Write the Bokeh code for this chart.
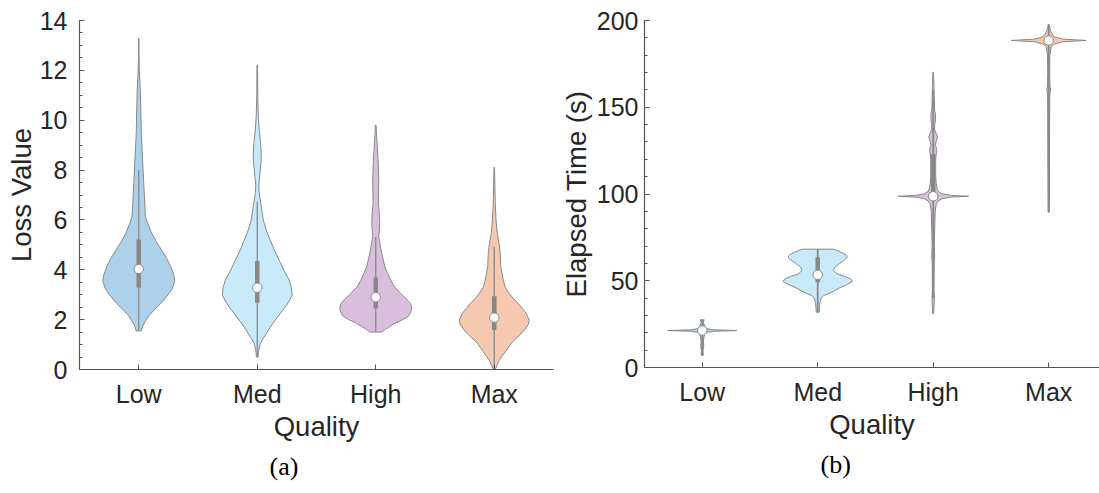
import numpy as np
from bokeh.plotting import figure
from bokeh.layouts import row
from bokeh.models import Range1d, FixedTicker, Title
from bokeh.embed import file_html
from bokeh.resources import INLINE

CATEGORIES = ["Low", "Med", "High", "Max"]
COLORS = ["#ADD1EA", "#C7E9F9", "#D8BFDC", "#F5C8B0"]

# ---------------- panel (a): Loss Value ----------------
LOSS_LOW_Y = [1.55, 1.75, 1.97, 2.2, 2.37, 2.65, 2.93, 3.2, 3.53, 3.8, 4.13, 4.45, 4.78, 5.1, 5.46,
              5.86, 6.14, 6.66, 7.46, 8.26, 9.5, 10.5, 11.15, 12.0, 12.5, 13.28]
LOSS_LOW_D = [2.7, 4, 7, 11, 15, 22, 28, 33, 36, 35, 32, 28, 23, 18, 13,
              9, 6.7, 6, 5, 4, 2.5, 2, 1.6, 0.6, 0.3, 0.3]

LOSS_MED_Y = [0.5, 0.7, 1.04, 1.25, 1.44, 1.7, 1.98, 2.25, 2.5, 2.75, 3.0, 3.3, 3.58, 3.95, 4.38,
              4.8, 5.19, 5.6, 6.0, 6.4, 6.8, 7.1, 7.4, 7.8, 8.3, 8.7, 9.1, 9.6, 10.2, 11.0, 12.2]
LOSS_MED_D = [0.8, 1.2, 3, 6, 9, 13, 18, 23, 28, 32, 35, 34, 32, 27, 22,
              17, 13, 9, 6, 4.5, 3, 1.8, 1.5, 2.5, 3.8, 4, 3.3, 2, 1, 0.5, 0.3]

LOSS_HIGH_Y = [1.5, 1.6, 1.7, 1.85, 2.0, 2.15, 2.4, 2.65, 2.85, 3.05, 3.3, 3.58, 3.85, 4.13, 4.65,
               5.0, 5.33, 5.86, 6.3, 6.66, 7.6, 8.3, 8.94, 9.4, 9.8]
LOSS_HIGH_D = [6, 9, 13, 19, 27, 33, 36, 35, 30, 25, 19, 15, 12, 9, 6,
               4.5, 3, 4, 3.5, 2.7, 3, 2.5, 1.5, 0.8, 0.3]

LOSS_MAX_Y = [0.0, 0.2, 0.37, 0.57, 0.77, 1.0, 1.18, 1.4, 1.58, 1.8, 1.98, 2.15, 2.25, 2.45, 2.65,
              2.85, 3.05, 3.3, 3.58, 4.13, 4.65, 5.0, 5.46, 6.0, 6.66, 7.4, 8.1]
LOSS_MAX_D = [1, 3, 5, 8.5, 12, 16, 20, 26, 30, 34, 35, 33, 32, 28, 24,
              19, 15, 11, 9, 6.5, 6, 5, 3, 1.8, 1, 0.6, 0.3]

LOSS_MEDIAN = [4.03, 3.28, 2.90, 2.08]
LOSS_Q1 = [3.29, 2.68, 2.45, 1.58]
LOSS_Q3 = [5.21, 4.35, 3.69, 2.94]
LOSS_WLO = [1.55, 0.5, 1.5, 0.0]
LOSS_WHI = [8.0, 6.73, 5.32, 4.92]

LOSS_TICKS = [0, 2, 4, 6, 8, 10, 12, 14]
LOSS_MINOR = [v * 0.5 for v in range(0, 29)]

# ---------------- panel (b): Elapsed Time ----------------
TIME_LOW_Y = [7.0, 10, 12, 15, 19, 20.3, 20.9, 21.3, 21.7, 22.3, 23.5, 26, 27.5]
TIME_LOW_D = [1, 0.8, 1.5, 1.2, 2, 5, 12, 34.7, 12, 5, 2.5, 1, 2]

TIME_MED_Y = [31.9, 35, 38, 40, 41.5, 42.6, 44, 46, 48, 49.6, 51, 52.5, 54, 55.9, 57.8, 60, 62,
              63.6, 65, 66.5, 67.5, 68.2]
TIME_MED_D = [1.5, 1.8, 2.5, 3.5, 6, 11, 16, 22, 30, 34.7, 33, 27, 19, 16, 17, 22, 27,
              29.7, 28, 23, 19, 16]

TIME_HIGH_Y = [31, 40, 45, 60, 65, 70, 80, 90, 94, 96, 97.3, 98.2, 98.7, 99.2, 100.1, 101.5, 103,
               106, 110, 115, 120, 123, 125, 126.5, 128, 130.5, 132.7, 135, 137, 140, 143, 146,
               148, 155, 162, 170.2]
TIME_HIGH_D = [0.5, 1.2, 0.8, 1, 1.5, 1, 1.5, 2, 3, 5, 9, 18, 35.3, 18, 9, 5, 4,
               3, 2.5, 2.5, 2.5, 3, 3.5, 3.3, 2, 3, 4.5, 3, 1.5, 1.5, 2.3, 2.3,
               1.5, 1, 0.8, 0.3]

TIME_MAX_Y = [89.5, 120, 150, 157, 160, 163, 170, 180, 185, 186.5, 187.7, 188.5, 189.3, 190.5,
              192.2, 194, 196, 197.7]
TIME_MAX_D = [0.5, 0.8, 1, 1.2, 1.8, 1.2, 1, 1.2, 2.5, 6, 14, 37.3, 14, 6,
              3.5, 2, 1, 0.3]

TIME_MEDIAN = [21.3, 53.4, 98.7, 188.5]
TIME_Q1 = [20.0, 49.2, 97.0, 187.0]
TIME_Q3 = [23.0, 63.6, 123.0, 190.0]
TIME_WLO = [7.0, 31.9, 40.0, 89.5]
TIME_WHI = [27.5, 68.2, 160.0, 197.7]

TIME_TICKS = [0, 50, 100, 150, 200]
TIME_MINOR = list(range(0, 201, 10))

FONT = "Liberation Sans"
TEXT = "#262626"
AXIS = "#555555"
GRAY = "#888888"


def make_panel(violins, med, q1, q3, wlo, whi, ymax, ticks, minor, ylabel, tag, tag_offset,
               frame_w, frame_h, xmax, bl, br, bt, bb, dens_scale, whisk_w,
               ystand, ylabstand):
    p = figure(frame_width=frame_w, frame_height=frame_h,
               x_range=Range1d(-0.5, xmax), y_range=Range1d(0, ymax),
               output_backend="svg", toolbar_location=None,
               min_border_left=bl, min_border_right=br, min_border_top=bt,
               min_border_bottom=bb)
    p.grid.visible = False
    p.outline_line_color = None
    p.background_fill_color = "white"
    p.border_fill_color = "white"

    xs, ys = [], []
    for i, (vy, vd) in enumerate(violins):
        vy = np.asarray(vy, float)
        hw = np.asarray(vd, float) * dens_scale
        xs.append(np.concatenate([i + hw, (i - hw)[::-1]]))
        ys.append(np.concatenate([vy, vy[::-1]]))
    p.patches(xs, ys, fill_color=COLORS, line_color=GRAY, line_width=1)

    xc = list(range(len(CATEGORIES)))
    p.segment(x0=xc, y0=wlo, x1=xc, y1=whi, line_color=GRAY, line_width=whisk_w)
    p.segment(x0=xc, y0=q1, x1=xc, y1=q3, line_color=GRAY, line_width=4.5)
    p.scatter(xc, med, size=9.5, fill_color="white", line_color=GRAY, line_width=1)

    xa = p.xaxis[0]
    ya = p.yaxis[0]
    xa.ticker = FixedTicker(ticks=xc, minor_ticks=[])
    xa.major_label_overrides = {float(i): c for i, c in enumerate(CATEGORIES)}
    ya.ticker = FixedTicker(ticks=ticks, minor_ticks=minor)
    xa.axis_label = "Quality"
    ya.axis_label = ylabel
    for ax in (xa, ya):
        ax.axis_line_color = AXIS
        ax.axis_line_width = 1.2
        ax.major_tick_line_color = AXIS
        ax.minor_tick_line_color = AXIS
        ax.major_tick_in = 5
        ax.major_tick_out = 0
        ax.minor_tick_in = 3
        ax.minor_tick_out = 0
        ax.major_label_text_font = FONT
        ax.major_label_text_font_size = "25px"
        ax.major_label_text_color = TEXT
        ax.axis_label_text_font = FONT
        ax.axis_label_text_font_size = "27.5px"
        ax.axis_label_text_font_style = "normal"
        ax.axis_label_text_color = TEXT
    ya.major_label_standoff = ystand
    ya.axis_label_standoff = ylabstand
    xa.major_label_standoff = 10
    xa.axis_label_standoff = 0

    p.add_layout(Title(text=tag, align="left", offset=tag_offset, standoff=11,
                       text_font="Liberation Serif", text_font_size="26px",
                       text_font_style="normal", text_color="black"), "below")
    return p


p1 = make_panel([(LOSS_LOW_Y, LOSS_LOW_D), (LOSS_MED_Y, LOSS_MED_D),
                 (LOSS_HIGH_Y, LOSS_HIGH_D), (LOSS_MAX_Y, LOSS_MAX_D)],
                LOSS_MEDIAN, LOSS_Q1, LOSS_Q3, LOSS_WLO, LOSS_WHI,
                14, LOSS_TICKS, LOSS_MINOR, "Loss Value", "(a)", 190,
                474, 349, 3.5, 79, 3, 17, 127, 1 / 118.5, 1.3, 12, 0)

p2 = make_panel([(TIME_LOW_Y, TIME_LOW_D), (TIME_MED_Y, TIME_MED_D),
                 (TIME_HIGH_Y, TIME_HIGH_D), (TIME_MAX_Y, TIME_MAX_D)],
                TIME_MEDIAN, TIME_Q1, TIME_Q3, TIME_WLO, TIME_WHI,
                200, TIME_TICKS, TIME_MINOR, "Elapsed Time (s)", "(b)", 176,
                455, 347, 3.44, 88, 0, 20, 126, 1 / 115.5, 1.8, 6, 2)

layout = row(p1, p2, spacing=0)
open("out.html", "w").write(file_html(layout, INLINE))
